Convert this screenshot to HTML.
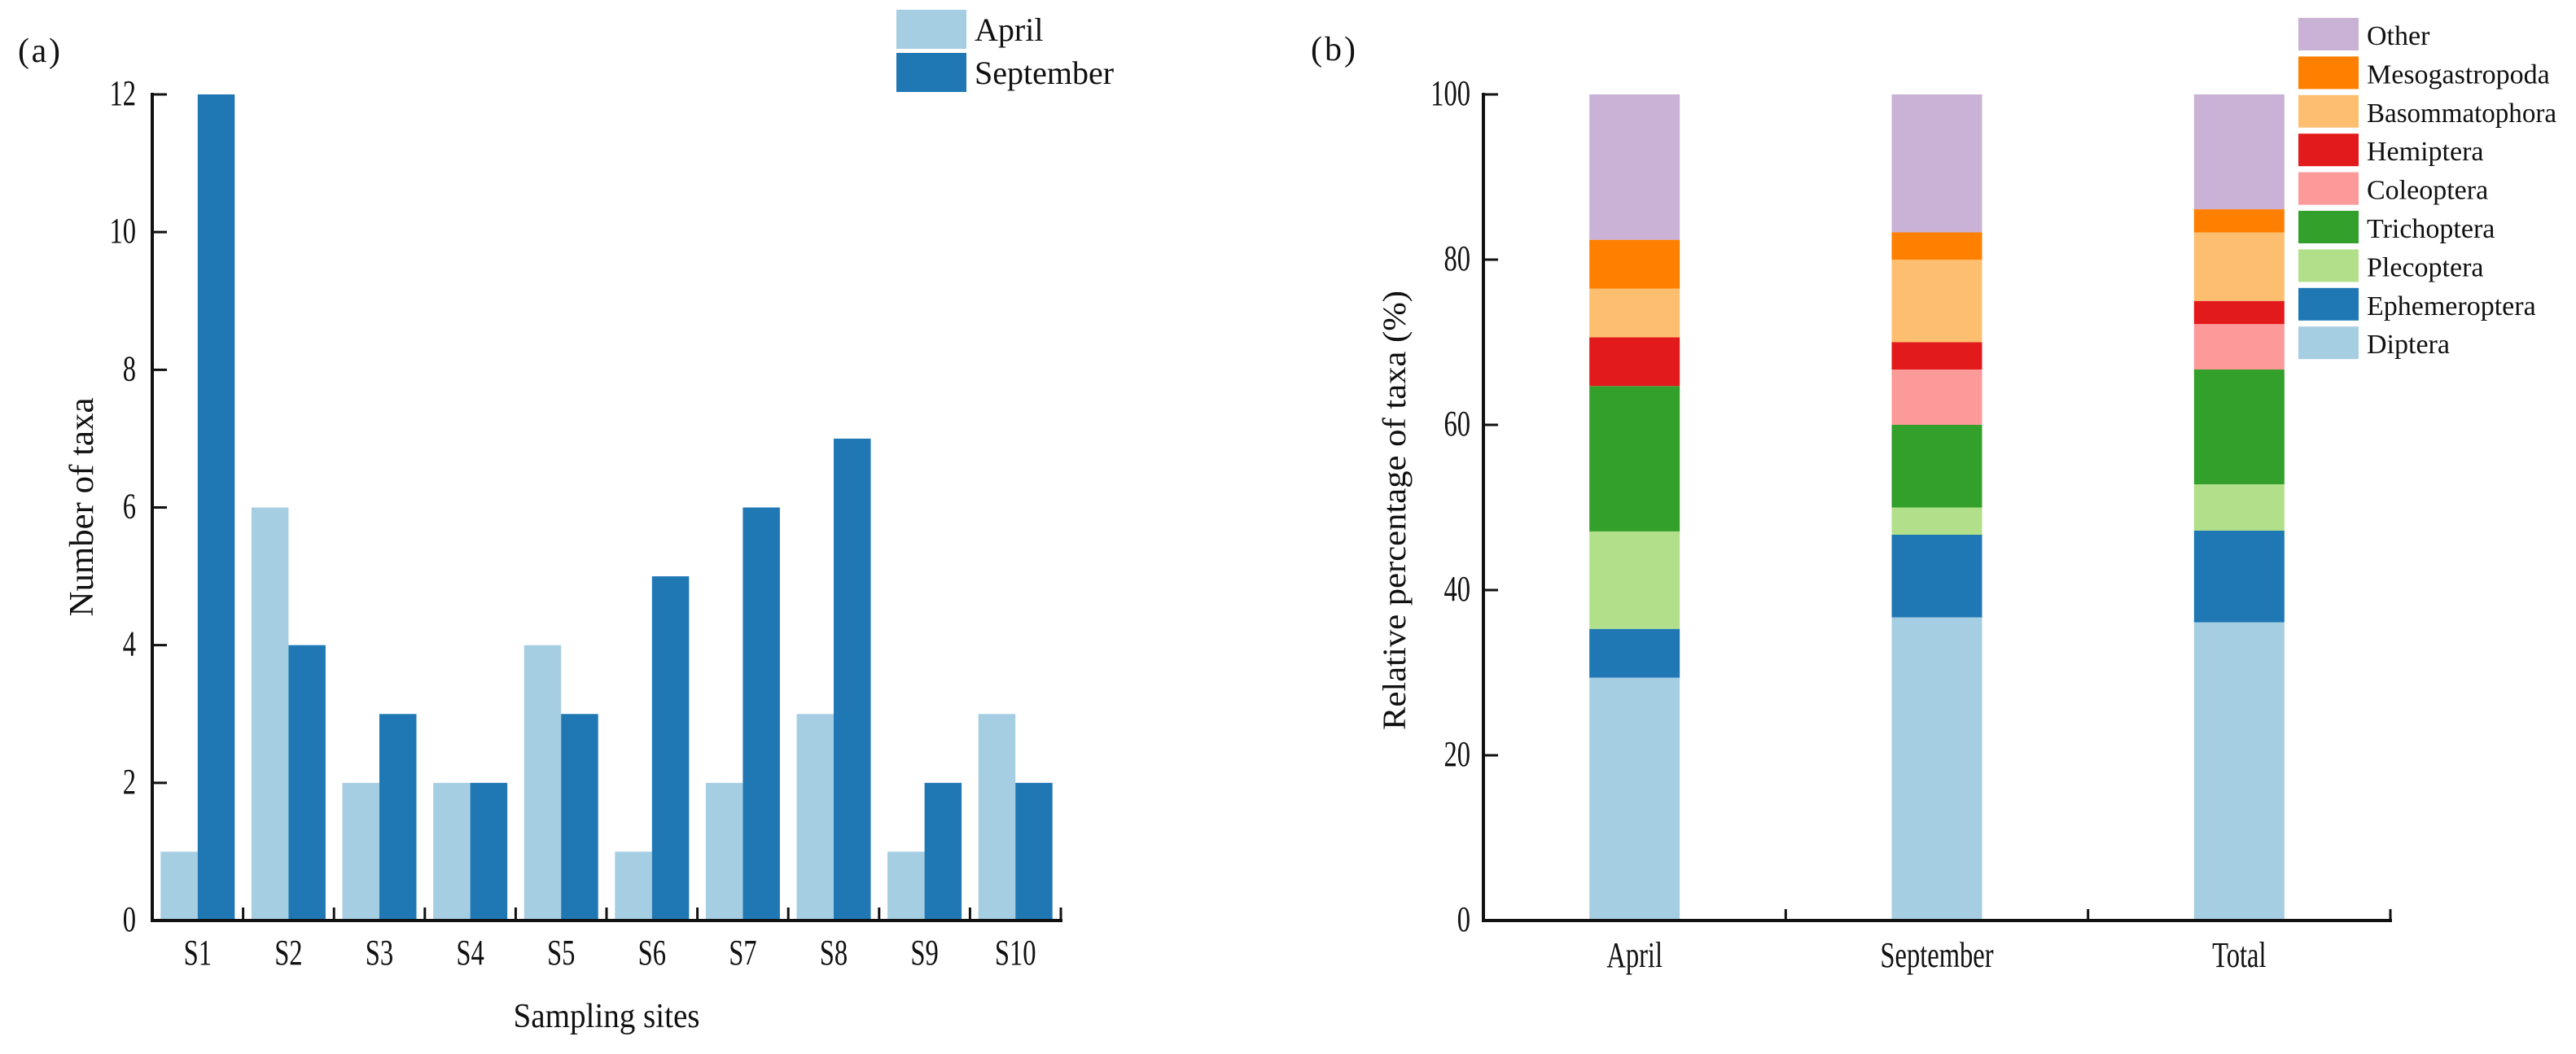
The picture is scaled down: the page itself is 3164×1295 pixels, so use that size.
<!DOCTYPE html>
<html><head><meta charset="utf-8"><style>
html,body{margin:0;padding:0;background:#fff;}
svg{display:block;}
text{font-family:"Liberation Serif",serif;fill:#111;}
</style></head><body>
<svg id="fig" width="3164" height="1295" viewBox="0 0 3164 1295" xmlns="http://www.w3.org/2000/svg">
<g id="chartA"></g>
<g id="chartB"></g>
</svg>
<script>
// ---- Chart (a) data ----
const sites = ["S1","S2","S3","S4","S5","S6","S7","S8","S9","S10"];
const aprilCounts = [1,6,2,2,4,1,2,3,1,3];
const septCounts = [12,4,3,2,3,5,6,7,2,2];
const yTicksA = [0,2,4,6,8,10,12];

// ---- Chart (b) data ----
const periods = ["April","September","Total"];
const taxaNames = ["Diptera","Ephemeroptera","Plecoptera","Trichoptera","Coleoptera","Hemiptera","Basommatophora","Mesogastropoda","Other"];
const diptera = [29.4,36.7,36.1];
const ephemeroptera = [5.9,10.0,11.1];
const plecoptera = [11.8,3.3,5.6];
const trichoptera = [17.6,10.0,13.9];
const coleoptera = [0,6.7,5.5];
const hemiptera = [5.9,3.3,2.8];
const basommatophora = [5.9,10.0,8.3];
const mesogastropoda = [5.9,3.3,2.8];
const other = [17.6,16.7,13.9];
const yTicksB = [0,20,40,60,80,100];

const NS = "http://www.w3.org/2000/svg";
function mk(tag, attrs, parent){
  const e = document.createElementNS(NS, tag);
  for (const k in attrs) e.setAttribute(k, attrs[k]);
  parent.appendChild(e);
  return e;
}
function txt(parent, s, attrs){
  const t = mk("text", attrs, parent);
  t.textContent = s;
  return t;
}
function ctxt(parent, s, x, y, anchor){
  const t = mk("text", {x: 0, y: 0, "font-size": 44, "text-anchor": anchor, transform: "translate(" + x + "," + y + ") scale(0.74,1)"}, parent);
  t.textContent = s;
  return t;
}

const Y0 = 1131, YTOP = 116;

// ===== Chart (a) =====
(function(){
  const g = document.getElementById("chartA");
  const x0 = 187, x1 = 1303;
  const band = (x1 - x0) / sites.length;
  const yMax = 12;
  const y = v => Y0 - (v / yMax) * (Y0 - YTOP);
  const barW = 45.5;
  const cLight = "#a6cee3", cDark = "#1f78b4";

  sites.forEach((s, i) => {
    const cx = x0 + band * (i + 0.5);
    const r1 = mk("rect", {x: cx - barW, y: y(aprilCounts[i]), width: barW, height: Y0 - y(aprilCounts[i]), fill: cLight}, g);
    
    
    const r2 = mk("rect", {x: cx, y: y(septCounts[i]), width: barW, height: Y0 - y(septCounts[i]), fill: cDark}, g);
    
    
    const lab = ctxt(g, s, cx, 1185, "middle");
    
    
    if (i > 0) {
      const tk = mk("line", {x1: x0 + band * i, x2: x0 + band * i, y1: Y0, y2: Y0 - 16, stroke: "#111", "stroke-width": 3}, g);
      
      
    }
  });
  const tkEnd = mk("line", {x1: x1, x2: x1, y1: Y0, y2: Y0 - 16, stroke: "#111", "stroke-width": 3}, g);
  
  

  yTicksA.forEach(v => {
    const tk = mk("line", {x1: x0, x2: x0 + 18, y1: y(v), y2: y(v), stroke: "#111", "stroke-width": 3}, g);
    
    
    const tl = ctxt(g, String(v), 167, y(v) + 13, "end");
    
    
  });

  const ya = mk("line", {x1: x0, x2: x0, y1: YTOP - 2, y2: Y0 + 2, stroke: "#111", "stroke-width": 4}, g);
  
  
  const xa = mk("line", {x1: x0 - 2, x2: x1 + 2, y1: Y0, y2: Y0, stroke: "#111", "stroke-width": 4}, g);
  
  

  const yt = txt(g, "Number of taxa", {x: 0, y: 0, "font-size": 42, "text-anchor": "middle", textLength: 269, lengthAdjust: "spacingAndGlyphs", transform: "translate(114,623) rotate(-90)"});
  
  
  const xt = txt(g, "Sampling sites", {x: 745, y: 1262, "font-size": 42, "text-anchor": "middle", textLength: 229, lengthAdjust: "spacingAndGlyphs"});
  
  
  const pl = txt(g, "(a)", {x: 22, y: 76, "font-size": 42, textLength: 52, lengthAdjust: "spacing"});
  
  

  const leg = mk("g", {}, g);
  
  
  [["April", cLight, 12], ["September", cDark, 65]].forEach(([n, c, yy]) => {
    const r = mk("rect", {x: 1101, y: yy, width: 86, height: 48, fill: c}, leg);
    
    
    const t = txt(leg, n, {x: 1197, y: yy + 38, "font-size": 40});
    
    
  });
})();

// ===== Chart (b) =====
(function(){
  const g = document.getElementById("chartB");
  const series = [diptera, ephemeroptera, plecoptera, trichoptera, coleoptera, hemiptera, basommatophora, mesogastropoda, other];
  const colors = ["#a6cee3","#1f78b4","#b2df8a","#33a02c","#fb9a99","#e31a1c","#fdbf6f","#ff7f00","#cab2d6"];
  const x0 = 1822, x1 = 2936;
  const band = (x1 - x0) / periods.length;
  const y = v => Y0 - (v / 100) * (Y0 - YTOP);
  const barW = 111;

  periods.forEach((p, i) => {
    const cx = x0 + band * (i + 0.5);
    let cum = 0;
    series.forEach((arr, k) => {
      const v = arr[i];
      if (v > 0) {
        const r = mk("rect", {x: cx - barW / 2, y: y(cum + v), width: barW, height: y(cum) - y(cum + v), fill: colors[k]}, g);
        
        
      }
      cum += v;
    });
    const lab = ctxt(g, p, cx, 1188, "middle");
    
    
    const tk = mk("line", {x1: x0 + band * (i + 1), x2: x0 + band * (i + 1), y1: Y0, y2: Y0 - 14, stroke: "#111", "stroke-width": 3}, g);
    
    
  });

  yTicksB.forEach(v => {
    const tk = mk("line", {x1: x0, x2: x0 + 18, y1: y(v), y2: y(v), stroke: "#111", "stroke-width": 3}, g);
    
    
    const tl = ctxt(g, String(v), 1806, y(v) + 13, "end");
    
    
  });

  const ya = mk("line", {x1: x0, x2: x0, y1: YTOP - 2, y2: Y0 + 2, stroke: "#111", "stroke-width": 4}, g);
  
  
  const xa = mk("line", {x1: x0 - 2, x2: x1 + 2, y1: Y0, y2: Y0, stroke: "#111", "stroke-width": 4}, g);
  
  

  const yt = txt(g, "Relative percentage of taxa (%)", {x: 0, y: 0, "font-size": 40, "text-anchor": "middle", textLength: 540, lengthAdjust: "spacingAndGlyphs", transform: "translate(1726,627) rotate(-90)"});
  
  
  const pl = txt(g, "(b)", {x: 1610, y: 74, "font-size": 42, textLength: 55, lengthAdjust: "spacing"});
  
  

  const leg = mk("g", {}, g);
  
  
  for (let k = series.length - 1; k >= 0; k--) {
    const row = series.length - 1 - k;
    const yy = 22 + row * 47.4;
    const r = mk("rect", {x: 2823, y: yy, width: 74, height: 40, fill: colors[k]}, leg);
    
    
    const attrs = {x: 2907, y: yy + 33, "font-size": 34};
    if (taxaNames[k] === "Basommatophora") { attrs.textLength = 233; attrs.lengthAdjust = "spacingAndGlyphs"; }
    const t = txt(leg, taxaNames[k], attrs);
    
    
  }
})();
</script>
</body></html>
